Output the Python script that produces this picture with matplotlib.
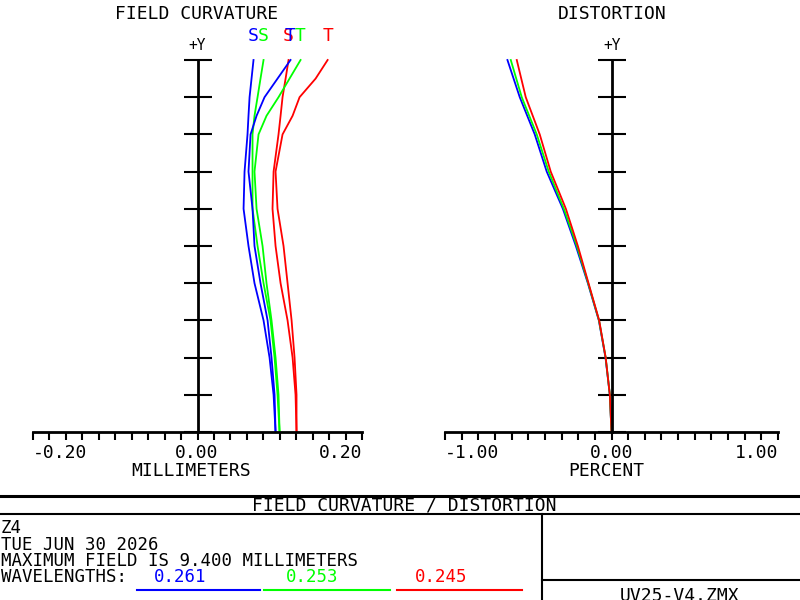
import numpy as np
import matplotlib
matplotlib.use("Agg")
import matplotlib.pyplot as plt

FONT = "DejaVu Sans Mono"

# relative field (0 .. 1 of 9.4 mm)
field = [0.0, 0.1, 0.2, 0.3, 0.4, 0.5, 0.6, 0.7, 0.8, 0.85, 0.9, 0.95, 1.0]

# field curvature in millimeters
blue_s = [0.0949, 0.0925, 0.0876, 0.0803, 0.0693, 0.0620, 0.0560, 0.0572, 0.0608, 0.0620, 0.0633, 0.0657, 0.0681]
blue_t = [0.0949, 0.0937, 0.0900, 0.0852, 0.0766, 0.0693, 0.0669, 0.0620, 0.0645, 0.0718, 0.0815, 0.0973, 0.1131]
green_s = [0.0998, 0.0973, 0.0937, 0.0888, 0.0803, 0.0730, 0.0669, 0.0669, 0.0669, 0.0693, 0.0730, 0.0766, 0.0803]
green_t = [0.0998, 0.0985, 0.0949, 0.0900, 0.0839, 0.0791, 0.0718, 0.0693, 0.0742, 0.0839, 0.0985, 0.1119, 0.1253]
red_s = [0.1204, 0.1192, 0.1156, 0.1095, 0.1010, 0.0949, 0.0912, 0.0925, 0.0985, 0.1010, 0.1034, 0.1071, 0.1107]
red_t = [0.1204, 0.1204, 0.1180, 0.1144, 0.1095, 0.1046, 0.0973, 0.0949, 0.1034, 0.1156, 0.1241, 0.1436, 0.1582]

# distortion in percent
dist_field = [0.0, 0.1, 0.2, 0.3, 0.4, 0.5, 0.6, 0.7, 0.8, 0.9, 1.0]
dist_blue = [0.0, -0.010, -0.036, -0.076, -0.142, -0.214, -0.292, -0.389, -0.461, -0.551, -0.625]
dist_green = [0.0, -0.010, -0.035, -0.075, -0.140, -0.208, -0.286, -0.377, -0.449, -0.539, -0.605]
dist_red = [0.0, -0.010, -0.035, -0.074, -0.138, -0.202, -0.274, -0.365, -0.431, -0.515, -0.569]

wavelengths = ["0.261", "0.253", "0.245"]
colors = ["#0000ff", "#00ff00", "#ff0000"]

W, H = 800, 600
fig = plt.figure(figsize=(8, 6), dpi=100)


def px(x, y):
    return x / W, 1 - y / H


def setup_axis(ax, lim, nticks):
    ax.set_xlim(-lim, lim)
    ax.set_ylim(0, 1)
    ax.patch.set_visible(False)
    for s in ["top", "right"]:
        ax.spines[s].set_visible(False)
    ax.spines["left"].set_position(("data", 0))
    ax.spines["left"].set_linewidth(2)
    ax.spines["bottom"].set_linewidth(2)
    ax.set_yticks(np.arange(0, 1.01, 0.1))
    ax.set_xticks(np.linspace(-lim, lim, nticks))
    ax.tick_params(axis="y", direction="inout", length=20, width=1.5, labelleft=False)
    ax.tick_params(axis="x", direction="out", length=6, width=1.5, labelbottom=False)


# field curvature
ax1 = fig.add_axes([33 / W, 1 - 432 / H, 329 / W, 372 / H])
setup_axis(ax1, 0.2, 21)
curves = [(blue_s, colors[0], "S"), (green_s, colors[1], "S"), (red_s, colors[2], "S"),
          (blue_t, colors[0], "T"), (green_t, colors[1], "T"), (red_t, colors[2], "T")]
for vals, c, lbl in curves:
    ax1.plot(vals, field, color=c, lw=1.3, clip_on=False)
    ax1.annotate(lbl, xy=(vals[-1], 1.0), xytext=(0, 14), textcoords="offset points",
                 ha="center", va="baseline", color=c, fontsize=13, family=FONT,
                 annotation_clip=False)

# distortion
ax2 = fig.add_axes([445 / W, 1 - 432 / H, 333 / W, 372 / H])
setup_axis(ax2, 1.0, 21)
for vals, c in zip([dist_blue, dist_green, dist_red], colors):
    ax2.plot(vals, dist_field, color=c, lw=1.3, clip_on=False)

txt = dict(family=FONT, fontsize=13, color="black")
fig.text(*px(197, 19), "FIELD CURVATURE", ha="center", va="baseline", **txt)
fig.text(*px(612, 19), "DISTORTION", ha="center", va="baseline", **txt)
fig.text(*px(197, 50), "+Y", ha="center", va="baseline", family=FONT, fontsize=10.5)
fig.text(*px(612, 50), "+Y", ha="center", va="baseline", family=FONT, fontsize=10.5)

fig.text(*px(33, 458), "-0.20", ha="left", va="baseline", **txt)
fig.text(*px(197, 458), "0.00", ha="center", va="baseline", **txt)
fig.text(*px(362, 458), "0.20", ha="right", va="baseline", **txt)
fig.text(*px(191, 476), "MILLIMETERS", ha="center", va="baseline", **txt)
fig.text(*px(445, 458), "-1.00", ha="left", va="baseline", **txt)
fig.text(*px(612, 458), "0.00", ha="center", va="baseline", **txt)
fig.text(*px(778, 458), "1.00", ha="right", va="baseline", **txt)
fig.text(*px(606, 476), "PERCENT", ha="center", va="baseline", **txt)

# footer box
ftxt = dict(family=FONT, fontsize=12.5, color="black")
fax = fig.add_axes([0, 0, 1, 115 / H])
fax.set_xlim(0, W)
fax.set_ylim(600, 485)
fax.axis("off")
fax.axhline(495.5, color="black", lw=2.2)
fax.axhline(514, color="black", lw=1.5)
fax.plot([542, 542], [514, 600], color="black", lw=1.5, clip_on=False)
fax.plot([542, 800], [580, 580], color="black", lw=1.5)

fax.text(404, 511, "FIELD CURVATURE / DISTORTION", ha="center", va="baseline", **txt)
fax.text(1, 533, "Z4", ha="left", va="baseline", **ftxt)
fax.text(1, 550, "TUE JUN 30 2026", ha="left", va="baseline", **ftxt)
fax.text(1, 566, "MAXIMUM FIELD IS 9.400 MILLIMETERS", ha="left", va="baseline", **ftxt)
fax.text(1, 582, "WAVELENGTHS:", ha="left", va="baseline", **ftxt)

wl_x = [154, 286, 415]
line_x = [(137, 260), (264, 390), (397, 522)]
for wl, c, x0, (a, b) in zip(wavelengths, colors, wl_x, line_x):
    fax.text(x0, 582, wl, ha="left", va="baseline", color=c, family=FONT, fontsize=12.5)
    fax.plot([a, b], [590, 590], color=c, lw=1.5)

fax.text(680, 601, "UV25-V4.ZMX", ha="center", va="baseline", clip_on=False, **txt)

fig.savefig("out.png", dpi=100)
